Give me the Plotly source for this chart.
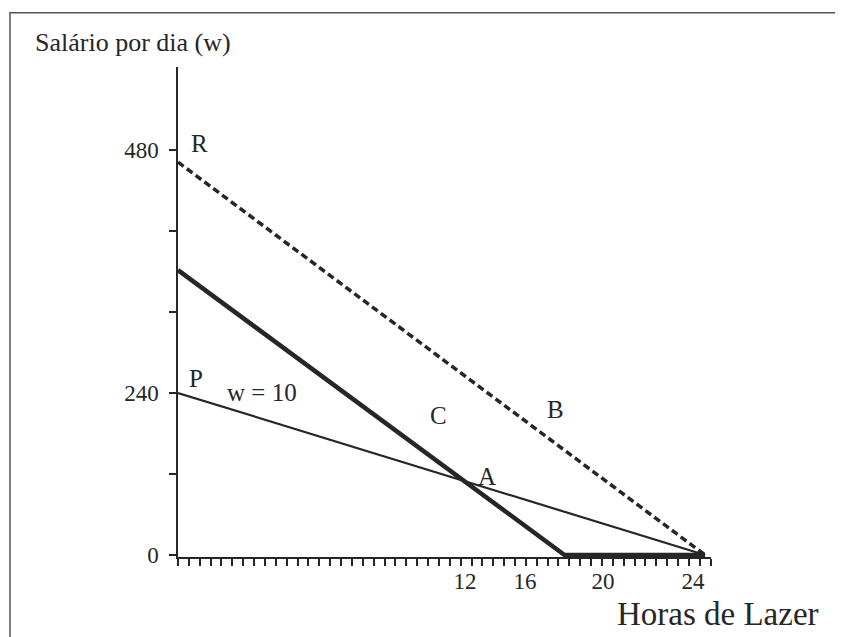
import plotly.graph_objects as go

# ---- data ----
hours_w10 = [0, 24]            # line P-Q (w = 10)
income_w10 = [240, 0]

hours_thick = [0, 17.6, 24]    # thick budget line through A
income_thick = [422, 0, 0]

hours_dash = [0, 24]           # dashed line R-Q
income_dash = [582, 0]

x_tick_pos = [13.07, 15.8, 19.35, 23.45]
x_tick_text = ["12", "16", "20", "24"]

y_tick_pos = [0, 120, 240, 360, 480, 600]
y_tick_text = ["0", "", "240", "", "", "480"]

point_names = ["R", "P", "C", "B", "A", "Q"]
point_x = [1.0, 0.82, 11.84, 17.17, 14.07, 24.6]
point_y = [610, 262, 207, 215, 117, 47]

INK = "#262626"
FONT = "Liberation Serif"

fig = go.Figure()
fig.add_trace(go.Scatter(x=hours_dash, y=income_dash, mode="lines",
                         line=dict(color=INK, width=3.5, dash="7px,4px"),
                         showlegend=False, hoverinfo="skip"))
fig.add_trace(go.Scatter(x=hours_w10, y=income_w10, mode="lines",
                         line=dict(color=INK, width=2.2),
                         showlegend=False, hoverinfo="skip"))
fig.add_trace(go.Scatter(x=hours_thick, y=income_thick, mode="lines",
                         line=dict(color=INK, width=4.5),
                         showlegend=False, hoverinfo="skip"))

annotations = []
for name, px_, py_ in zip(point_names, point_x, point_y):
    annotations.append(dict(x=px_, y=py_, xref="x", yref="y", text=name,
                            showarrow=False, font=dict(family=FONT, size=25, color=INK)))
annotations.append(dict(x=3.83, y=241, xref="x", yref="y", text="w = 10",
                        showarrow=False, font=dict(family=FONT, size=25, color=INK)))
annotations.append(dict(x=-0.272, y=1.051, xref="paper", yref="paper",
                        text="Salário por dia (w)", xanchor="left", yanchor="middle",
                        showarrow=False, font=dict(family=FONT, size=26, color=INK)))
annotations.append(dict(x=0.8199, y=-0.1168, xref="paper", yref="paper",
                        text="Horas de Lazer", xanchor="left", yanchor="middle",
                        showarrow=False, font=dict(family=FONT, size=33, color=INK)))

# page body adds an 8px offset; the figure is sized to compensate
fig.update_layout(
    width=835, height=629,
    margin=dict(l=170, r=132, t=59, b=80, pad=0),
    paper_bgcolor="white", plot_bgcolor="white",
    annotations=annotations,
    shapes=[dict(type="rect", xref="paper", yref="paper",
                 x0=-0.3152, x1=1.2345, y0=-0.19, y1=1.1107,
                 line=dict(color="#555555", width=1.5), fillcolor="rgba(0,0,0,0)",
                 layer="below")],
    xaxis=dict(range=[0, 24.27], showline=True, linecolor=INK, linewidth=1.5,
               showgrid=False, zeroline=False,
               tickmode="array", tickvals=x_tick_pos, ticktext=x_tick_text,
               ticks="", ticklabelstandoff=3,
               tickfont=dict(family=FONT, size=23, color=INK),
               minor=dict(ticks="outside", ticklen=7, tickwidth=1.5, tickcolor=INK,
                          dtick=0.495, tick0=0, showgrid=False)),
    yaxis=dict(range=[-3, 723], showline=True, linecolor=INK, linewidth=1.5,
               showgrid=False, zeroline=False,
               tickmode="array", tickvals=y_tick_pos, ticktext=y_tick_text,
               ticks="outside", ticklen=7, tickwidth=1.5, tickcolor=INK,
               ticklabelstandoff=6,
               tickfont=dict(family=FONT, size=23, color=INK)),
)

fig.write_html("out.html")
